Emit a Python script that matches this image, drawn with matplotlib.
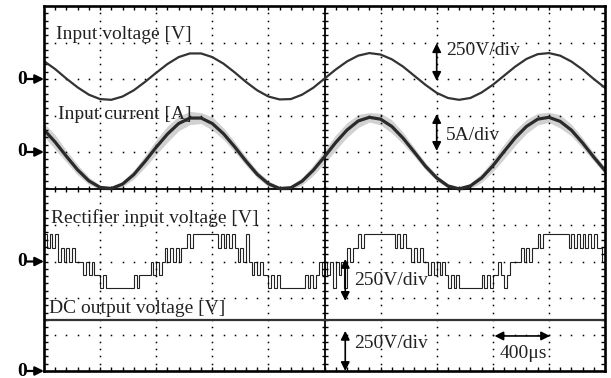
import numpy as np
import matplotlib
matplotlib.use("Agg")
import matplotlib.pyplot as plt

# ---------------- data (in screen divisions) ----------------
# Sampled every 0.2 div from left edge (0) to right edge (10)
sample_step = 0.2
input_voltage = [0.49, 0.27, 0.01, -0.23, -0.43, -0.55, -0.57, -0.48, -0.31, -0.08,
                 0.17, 0.41, 0.60, 0.70, 0.70, 0.60, 0.42, 0.18, -0.08, -0.31,
                 -0.48, -0.56, -0.55, -0.43, -0.24, 0.01, 0.26, 0.48, 0.64, 0.71,
                 0.67, 0.54, 0.34, 0.09, -0.16, -0.38, -0.52, -0.57, -0.52, -0.37,
                 -0.16, 0.09, 0.34, 0.55, 0.68, 0.71, 0.64, 0.48, 0.26, 0.00, -0.24]
input_current = [0.61, 0.27, -0.12, -0.49, -0.79, -0.97, -1.00, -0.88, -0.62, -0.26,
                 0.13, 0.49, 0.78, 0.93, 0.93, 0.78, 0.50, 0.14, -0.25, -0.61,
                 -0.87, -1.00, -0.98, -0.80, -0.50, -0.13, 0.26, 0.60, 0.85, 0.95,
                 0.90, 0.70, 0.38, 0.00, -0.39, -0.71, -0.93, -1.01, -0.93, -0.71,
                 -0.38, 0.01, 0.39, 0.70, 0.90, 0.95, 0.84, 0.60, 0.25, -0.14, -0.51]
current_ripple = [0.18, 0.20, 0.16, 0.14, 0.10, 0.06, 0.05, 0.08, 0.12, 0.16,
                  0.20, 0.22, 0.20, 0.18, 0.15, 0.18, 0.16, 0.14, 0.12, 0.10,
                  0.08, 0.05, 0.06, 0.10, 0.14, 0.18, 0.21, 0.20, 0.18, 0.13,
                  0.16, 0.18, 0.16, 0.12, 0.10, 0.08, 0.06, 0.05, 0.08, 0.12,
                  0.16, 0.20, 0.21, 0.19, 0.16, 0.14, 0.18, 0.16, 0.14, 0.11, 0.10]
# Rectifier input voltage: level index per 0.05 div slot (0..4 -> -2..+2 steps)
rect_slot = 0.05
rect_levels = ("43434" "232323" "22" "212121" "101" "0000000000" "10" "1111"
               "21212" "3232323" "3434" "44444444" "343434" "323" "242" "12121"
               "10101" "000000000" "1010" "12121" "202120" "323" "3434"
               "4444444444" "34343" "32323" "22" "1212121" "0101" "00000000"
               "10101" "121012" "22" "232323" "3434" "44444444" "34343434343" "32")
rect_step_values = [-0.72, -0.37, 0.0, 0.37, 0.74]
dc_output_voltage = 1.4

# channel zero references (div above bottom)
zero_voltage, zero_current, zero_rect, zero_dc = 8.0, 6.0, 3.0, 0.0

# ---------------- figure ----------------
plt.rcParams['font.family'] = ['Liberation Serif', 'DejaVu Serif']
fig = plt.figure(figsize=(6.11, 3.78), dpi=100)
ax = fig.add_axes([44 / 611, 7 / 378, 561 / 611, 365 / 378])
ax.set_xlim(0, 10)
ax.set_ylim(0, 10)
ax.set_xticks([])
ax.set_yticks([])
ax.set_xticks(np.arange(0.2, 10, 0.2), minor=True)
ax.set_yticks(np.arange(0.2, 10, 0.2), minor=True)
ax.tick_params(which='minor', direction='in', length=3, width=1.0,
               top=True, right=True, labelbottom=False, labelleft=False)
for s in ax.spines.values():
    s.set_linewidth(1.9)

# dotted graticule
sub = np.arange(0.2, 10, 0.2)
for g in [1, 2, 3, 4, 6, 7, 8, 9]:
    ax.plot(np.full_like(sub, g), sub, ls='none', marker='s', ms=1.1,
            color='k', mew=0)
    ax.plot(sub, np.full_like(sub, g), ls='none', marker='s', ms=1.1,
            color='k', mew=0)
# centre cross with ticks
ax.axvline(5, color='k', lw=1.3)
ax.axhline(5, color='k', lw=1.3)
ax.plot(np.full_like(sub, 5), sub, ls='none', marker='_', ms=5, mew=1.0, color='k')
ax.plot(sub, np.full_like(sub, 5), ls='none', marker='|', ms=5, mew=1.0, color='k')

# traces
t = np.arange(len(input_voltage)) * sample_step
v = np.array(input_voltage) + zero_voltage
ax.plot(t, v, color='#333333', lw=1.6)

c = np.array(input_current) + zero_current
r = np.array(current_ripple)
ax.fill_between(t, c - r, c + r, color='#9a9a9a', alpha=0.45, lw=0)
ax.plot(t, c, color='#2a2a2a', lw=2.3)

lv = np.array([rect_step_values[int(ch)] for ch in rect_levels]) + zero_rect
edges = np.arange(len(lv) + 1) * rect_slot
ax.stairs(lv, edges, baseline=None, color='#222222', lw=0.8)

ax.axhline(dc_output_voltage + zero_dc, color='#333333', lw=1.6)

# labels
tkw = dict(fontsize=14, color='#222222', va='center', ha='left')
ax.text(0.21, 9.23, 'Input voltage [V]', **tkw)
ax.text(0.25, 7.04, 'Input current [A]', **tkw)
ax.text(0.12, 4.19, 'Rectifier input voltage [V]', **tkw)
ax.text(0.09, 1.70, 'DC output voltage [V]', **tkw)

akw = dict(arrowstyle='<|-|>', mutation_scale=13, lw=1.2, color='k', shrinkA=0, shrinkB=0)
ax.annotate('', xy=(7.0, 8.98), xytext=(7.0, 7.95), arrowprops=akw)
ax.text(7.17, 8.77, '250V/div', **tkw)
ax.annotate('', xy=(7.0, 7.04), xytext=(7.0, 6.03), arrowprops=akw)
ax.text(7.17, 6.44, '5A/div', **tkw)
ax.annotate('', xy=(5.37, 3.07), xytext=(5.37, 1.92), arrowprops=akw)
ax.text(5.52, 2.47, '250V/div', **tkw)
ax.annotate('', xy=(5.37, 1.1), xytext=(5.37, 0.0), arrowprops=akw)
ax.text(5.52, 0.74, '250V/div', **tkw)
ax.annotate('', xy=(8.03, 0.96), xytext=(9.02, 0.96), arrowprops=akw)
ax.text(8.55, 0.47, '400μs', fontsize=14, color='#222222', va='center', ha='center')

# zero markers
for z in [zero_voltage, zero_current, zero_rect, zero_dc]:
    ax.annotate('', xy=(0, z), xytext=(-0.3, z), annotation_clip=False,
                arrowprops=dict(arrowstyle='-|>', mutation_scale=13, lw=1.6,
                                color='k', shrinkA=0, shrinkB=0))
    ax.text(-0.39, z, '0', fontsize=14, fontweight='bold', ha='center',
            va='center', color='k', clip_on=False)

fig.savefig('out.png', dpi=100)
